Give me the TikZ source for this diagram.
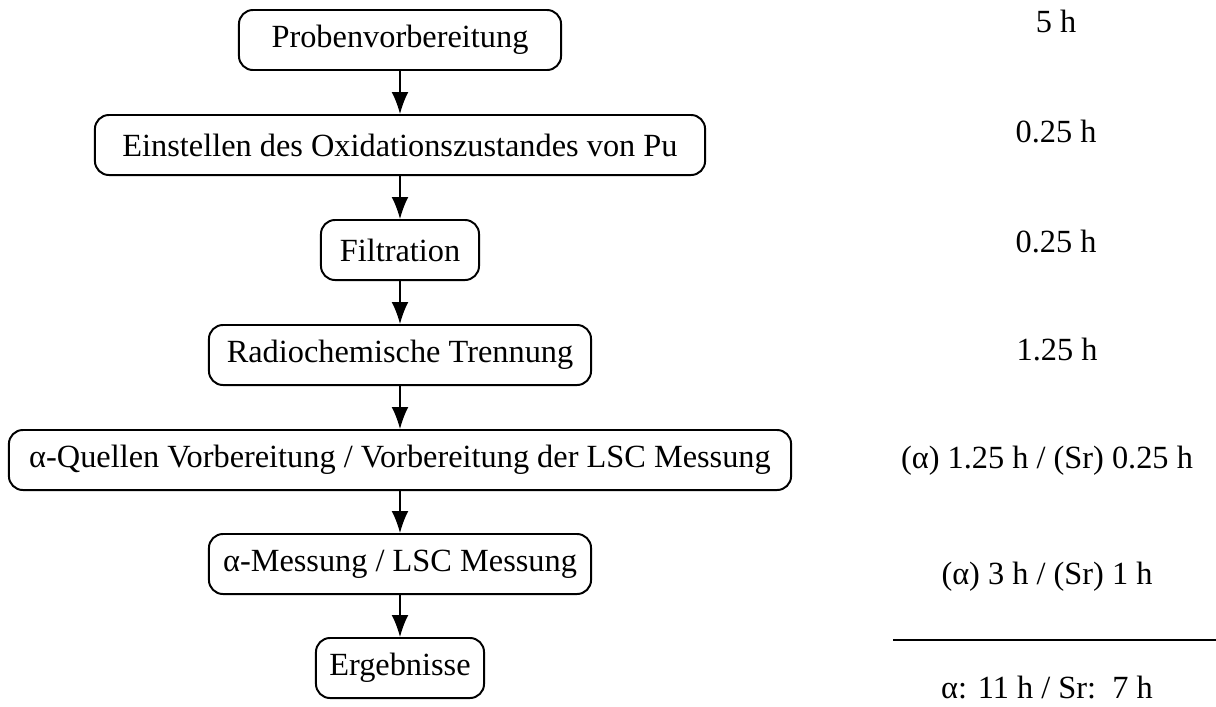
\documentclass[tikz,border=0pt]{standalone}
\usepackage{fontspec}
\setmainfont{Liberation Serif}
\usetikzlibrary{arrows.meta,positioning}
\tikzset{
  stepbox/.style={draw,rounded corners=0.35cm,line width=1.4pt,
    minimum height=1.5cm,inner sep=0pt,align=center,
    font=\fontsize{23}{27}\selectfont},
  timelabel/.style={inner sep=0pt,anchor=base,font=\fontsize{23}{27}\selectfont},
  arrow/.style={-{Latex[length=0.55cm,width=0.42cm]},line width=1pt}
}
\begin{document}
\begin{tikzpicture}[x=0.025cm,y=-0.025cm]
  \useasboundingbox (0,0) rectangle (1216,706);
  % Ablauf
  \node[stepbox,minimum width=8.05cm] (prep) at (400,40) {Probenvorbereitung};
  \node[stepbox,minimum width=15.25cm] (oxid) at (400,145) {Einstellen des Oxidationszustandes von Pu};
  \node[stepbox,minimum width=3.95cm] (filt) at (400,250) {Filtration};
  \node[stepbox,minimum width=9.55cm] (sep) at (400,355) {Radiochemische Trennung};
  \node[stepbox,minimum width=19.55cm] (src) at (400,460) {α-Quellen Vorbereitung / Vorbereitung der LSC Messung};
  \node[stepbox,minimum width=9.55cm] (meas) at (400,564) {α-Messung / LSC Messung};
  \node[stepbox,minimum width=4.2cm] (res) at (400,668) {Ergebnisse};
  \foreach \a/\b in {prep/oxid,oxid/filt,filt/sep,sep/src,src/meas,meas/res}
    \draw[arrow] (\a) -- (\b);
  % Zeiten
  \node[timelabel] (tprep) at (1056,32) {5 h};
  \node[timelabel] (toxid) at (1056,142) {0.25 h};
  \node[timelabel] (tfilt) at (1056,252) {0.25 h};
  \node[timelabel] (tsep) at (1057,360) {1.25 h};
  \node[timelabel] (tsrc) at (1047,468) {(α) 1.25 h / (Sr) 0.25 h};
  \node[timelabel] (tmeas) at (1047,584) {(α) 3 h / (Sr) 1 h};
  \coordinate (sumL) at (893,640);
  \coordinate (sumR) at (1216,640);
  \draw[line width=1.3pt] (sumL) -- (sumR);
  \node[timelabel] (tsum) at (1047,698) {α: 11 h / Sr:~~7 h};
\end{tikzpicture}
\end{document}
